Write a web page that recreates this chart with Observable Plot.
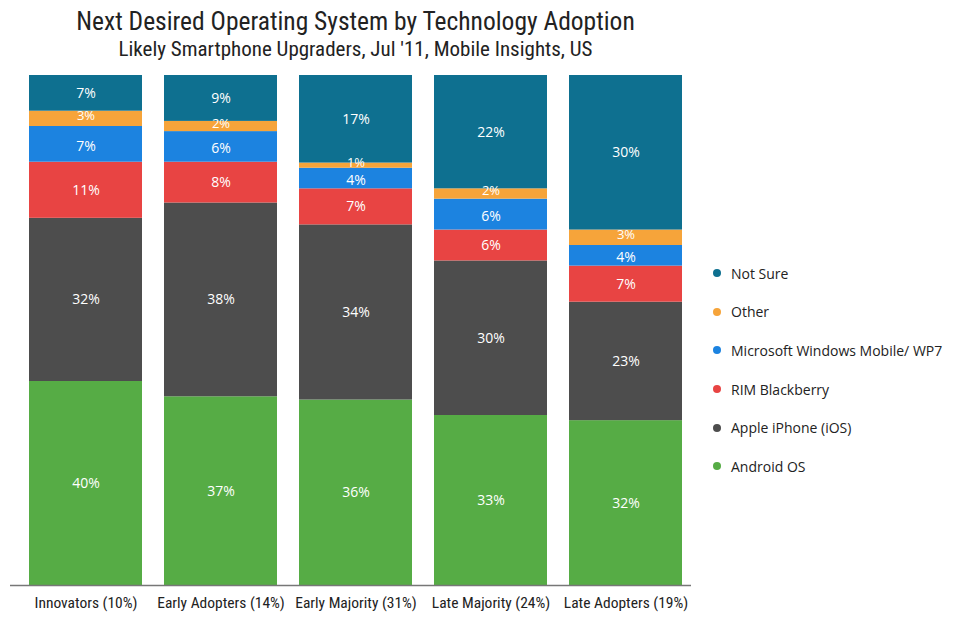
<!DOCTYPE html>
<html>
<head>
<meta charset="utf-8">
<script src="https://cdn.jsdelivr.net/npm/d3@7"></script>
<script src="https://cdn.jsdelivr.net/npm/@observablehq/plot@0.6"></script>
<style>
  body { margin: 0; background: #fff; font-family: "Open Sans", "DejaVu Sans", sans-serif; }
  #wrap { position: relative; width: 959px; height: 617px; overflow: hidden; }
  #title { position: absolute; left: 28px; width: 655px; top: 6px; text-align: center; font-family: "Roboto Condensed", "Liberation Sans Narrow", "Open Sans", sans-serif; font-size: 25.5px; line-height: 30px; color: #222; white-space: nowrap; }
  #subtitle { position: absolute; left: 28px; width: 655px; top: 36px; text-align: center; font-family: "Roboto Condensed", "Liberation Sans Narrow", "Open Sans", sans-serif; font-size: 21px; line-height: 26px; color: #222; white-space: nowrap; }
  #chart { position: absolute; left: 0; top: 0; }
  #legend { position: absolute; left: 713px; top: 254px; font-family: "Open Sans", sans-serif; font-size: 14px; color: #222; }
  #legend .item { display: flex; align-items: center; height: 38.6px; white-space: nowrap; }
  #legend .sw { width: 8px; height: 8px; border-radius: 50%; margin-right: 10px; flex: none; }
</style>
</head>
<body>
<div id="wrap">
  <div id="chart"></div>
  <div id="title">Next Desired Operating System by Technology Adoption</div>
  <div id="subtitle">Likely Smartphone Upgraders, Jul '11, Mobile Insights, US</div>
  <div id="legend"></div>
</div>
<script>
const groups = ["Innovators (10%)", "Early Adopters (14%)", "Early Majority (31%)", "Late Majority (24%)", "Late Adopters (19%)"];
const seriesNames = ["Android OS", "Apple iPhone (iOS)", "RIM Blackberry", "Microsoft Windows Mobile/ WP7", "Other", "Not Sure"];
const seriesColors = ["#56ac45", "#4d4d4d", "#e84443", "#1c83e0", "#f6a43a", "#0e7090"];
const android   = [40, 37, 36, 33, 32];
const iphone    = [32, 38, 34, 30, 23];
const rim       = [11, 8, 7, 6, 7];
const microsoft = [7, 6, 4, 6, 4];
const other     = [3, 2, 1, 2, 3];
const notSure   = [7, 9, 17, 22, 30];

const seriesValues = [android, iphone, rim, microsoft, other, notSure];
const data = [];
seriesNames.forEach((s, i) => {
  groups.forEach((g, j) => data.push({group: g, os: s, value: seriesValues[i][j]}));
});

const stackOpts = {x: "group", y: "value", z: "os", order: seriesNames, offset: "normalize"};
const OTHER = "Other", MS = "Microsoft Windows Mobile/ WP7";

const chart = Plot.plot({
  width: 959, height: 617,
  marginLeft: 28, marginRight: 959 - 683, marginTop: 75, marginBottom: 32,
  style: {background: "transparent", fontFamily: "Open Sans, sans-serif"},
  x: {domain: groups, paddingInner: 0.16, paddingOuter: 0, label: null, axis: null},
  y: {axis: null},
  color: {domain: seriesNames, range: seriesColors},
  marks: [
    Plot.barY(data, Plot.stackY({...stackOpts, fill: "os"})),
    Plot.text(data, Plot.stackY({...stackOpts,
      text: d => (d.os !== OTHER && d.os !== MS) ? d.value + "%" : null, fill: "white", fontSize: 14})),
    Plot.text(data, Plot.stackY({...stackOpts,
      text: d => d.os === OTHER ? d.value + "%" : null, fill: "white", fontSize: 13, dy: -3})),
    Plot.text(data, Plot.stackY({...stackOpts,
      text: d => d.os === MS ? d.value + "%" : null, fill: "white", fontSize: 14, dy: 2})),
    Plot.ruleY([0], {stroke: "#777", strokeWidth: 1.5, insetLeft: -18, insetRight: -8}),
    Plot.axisX({domain: groups, tickSize: 0, tickPadding: 11, fontSize: 15.5, fill: "#222", label: null,
      fontFamily: "Roboto Condensed, Open Sans, sans-serif"})
  ]
});
document.getElementById("chart").appendChild(chart);

const legend = document.getElementById("legend");
seriesNames.map((s, i) => i).reverse().forEach(i => {
  const item = document.createElement("div");
  item.className = "item";
  item.innerHTML = `<span class="sw" style="background:${seriesColors[i]}"></span><span>${seriesNames[i]}</span>`;
  legend.appendChild(item);
});
</script>
</body>
</html>
